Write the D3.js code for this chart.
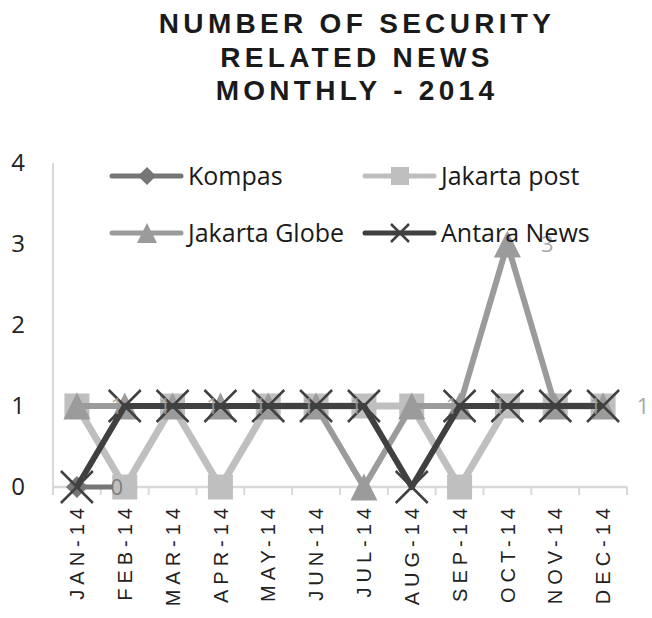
<!DOCTYPE html>
<html>
<head>
<meta charset="utf-8">
<script src="https://cdn.jsdelivr.net/npm/d3@7"></script>
<style>
  body { margin: 0; background: #fff; }
  svg { display: block; }
</style>
</head>
<body>
<svg id="chart" width="652" height="618"></svg>
<script>
      const months = ["JAN-14", "FEB-14", "MAR-14", "APR-14", "MAY-14", "JUN-14",
                      "JUL-14", "AUG-14", "SEP-14", "OCT-14", "NOV-14", "DEC-14"];
      const kompas = [0, 0, null, null, null, null, null, null, null, null, null, null];
      const jakartaPost = [1, 0, 1, 0, 1, 1, 1, 1, 0, 1, 1, 1];
      const jakartaGlobe = [1, 1, 1, 1, 1, 1, 0, 1, 1, 3, 1, 1];
      const antaraNews = [0, 1, 1, 1, 1, 1, 1, 0, 1, 1, 1, 1];
      const yTicks = [0, 1, 2, 3, 4];
      const titleLines = ["NUMBER OF SECURITY", "RELATED NEWS", "MONTHLY - 2014"];

      const series = [
        { name: "Kompas", values: kompas, color: "#767676", marker: "diamond", width: 5 },
        { name: "Jakarta post", values: jakartaPost, color: "#bfbfbf", marker: "square", width: 7 },
        { name: "Jakarta Globe", values: jakartaGlobe, color: "#9b9b9b", marker: "triangle", width: 6 },
        { name: "Antara News", values: antaraNews, color: "#404040", marker: "cross", width: 6 }
      ];

      const svg = d3.select("#chart");

      const x = d3.scaleBand().domain(months).range([53, 627]);
      const y = d3.scaleLinear().domain([0, 4]).range([487, 163]);
      const cx = m => x(m) + x.bandwidth() / 2;

      // title
      svg.append("g").selectAll("text")
        .data(titleLines)
        .join("text")
        .attr("x", 357)
        .attr("y", (d, i) => 33 + i * 33.5)
        .attr("text-anchor", "middle")
        .attr("font-family", "Liberation Sans, Arial, sans-serif")
        .attr("font-weight", "bold")
        .attr("font-size", 28)
        .attr("letter-spacing", "4.3px")
        .attr("fill", "#1a1a1a")
        .text(d => d);

      // y axis
      const yAxis = svg.append("g")
        .attr("transform", "translate(53,0)")
        .call(d3.axisLeft(y).tickValues(yTicks).tickSize(0).tickPadding(28).tickFormat(d3.format("d")));
      yAxis.select(".domain").remove();
      yAxis.selectAll("text")
        .attr("font-family", "Open Sans, sans-serif")
        .attr("font-size", 24)
        .attr("fill", "#222");
      svg.append("line")
        .attr("x1", 53).attr("x2", 53)
        .attr("y1", y(4)).attr("y2", y(0))
        .attr("stroke", "#d9d9d9").attr("stroke-width", 2);

      // x axis
      const xAxis = svg.append("g")
        .attr("transform", `translate(0,${y(0)})`)
        .call(d3.axisBottom(x).tickSize(0).tickPadding(0));
      xAxis.select(".domain").remove();
      xAxis.selectAll("text")
        .attr("transform", "translate(0,16) rotate(-90)")
        .attr("text-anchor", "end")
        .attr("dy", "0.36em")
        .attr("dx", "0")
        .attr("font-family", "Liberation Sans, Arial, sans-serif")
        .attr("font-size", 20)
        .attr("letter-spacing", "5px")
        .attr("fill", "#222");

      const bounds = months.map(m => x(m)).concat([x.range()[1]]);
      svg.append("g").selectAll("line")
        .data(bounds)
        .join("line")
        .attr("x1", d => d).attr("x2", d => d)
        .attr("y1", y(0)).attr("y2", y(0) + 8)
        .attr("stroke", "#d9d9d9").attr("stroke-width", 2);
      svg.append("line")
        .attr("x1", 53).attr("x2", 627)
        .attr("y1", y(0)).attr("y2", y(0))
        .attr("stroke", "#d9d9d9").attr("stroke-width", 2.5);

      function markerPath(type, s) {
        const h = s / 2;
        if (type === "diamond") return `M0,${-h}L${h},0L0,${h}L${-h},0Z`;
        if (type === "square") return `M${-h},${-h}H${h}V${h}H${-h}Z`;
        if (type === "triangle") return `M0,${-h}L${h},${h}L${-h},${h}Z`;
        return `M${-h},${-h}L${h},${h}M${h},${-h}L${-h},${h}`;
      }

      function drawMarker(g, s, type, size) {
        g.append("path")
          .attr("d", markerPath(type, size))
          .attr("fill", type === "cross" ? "none" : s.color)
          .attr("stroke", s.color)
          .attr("stroke-width", type === "cross" ? 2.5 : 0);
      }

      const line = d3.line()
        .defined(d => d.v !== null)
        .x(d => cx(d.m))
        .y(d => y(d.v));

      const sizes = { diamond: 22, square: 25, triangle: 27, cross: 32 };

      series.forEach(s => {
        const pts = months.map((m, i) => ({ m: m, v: s.values[i] }));
        svg.append("path")
          .datum(pts)
          .attr("d", line)
          .attr("fill", "none")
          .attr("stroke", s.color)
          .attr("stroke-width", s.width)
          .attr("stroke-linejoin", "round");
        pts.filter(d => d.v !== null).forEach(d => {
          const g = svg.append("g").attr("transform", `translate(${cx(d.m)},${y(d.v)})`);
          drawMarker(g, s, s.marker, sizes[s.marker]);
        });
      });

      // data labels, offset to the right as in the original
      const labelled = [
        { s: series[0], keep: (d, i) => i === 0 },
        { s: series[2], keep: d => d.v > 0 }
      ];
      labelled.forEach(({ s, keep }) => {
        svg.append("g").selectAll("text")
          .data(months.map((m, i) => ({ m: m, v: s.values[i] })).filter((d, i) => d.v !== null && keep(d, i)))
          .join("text")
          .attr("x", d => cx(d.m) + 40)
          .attr("y", d => y(d.v))
          .attr("dy", "0.35em")
          .attr("text-anchor", "middle")
          .attr("font-family", "Open Sans, sans-serif")
          .attr("font-size", 22)
          .attr("fill", s.color)
          .attr("fill-opacity", 0.9)
          .text(d => d.v);
      });

      // legend
      const legendPos = [[112, 176], [365, 176], [112, 233], [365, 233]];
      const legendSizes = { diamond: 18, square: 18, triangle: 20, cross: 18 };
      series.forEach((s, i) => {
        const [lx, ly] = legendPos[i];
        const g = svg.append("g").attr("transform", `translate(${lx},${ly})`);
        g.append("line")
          .attr("x1", 0).attr("x2", 69)
          .attr("stroke", s.color)
          .attr("stroke-width", 5)
          .attr("stroke-linecap", "round");
        const mg = g.append("g").attr("transform", "translate(35,0)");
        drawMarker(mg, s, s.marker, legendSizes[s.marker]);
        g.append("text")
          .attr("x", 76)
          .attr("dy", "0.35em")
          .attr("font-family", "Open Sans, sans-serif")
          .attr("font-size", 25)
          .attr("fill", "#1a1a1a")
          .text(s.name);
      });
</script>
</body>
</html>
